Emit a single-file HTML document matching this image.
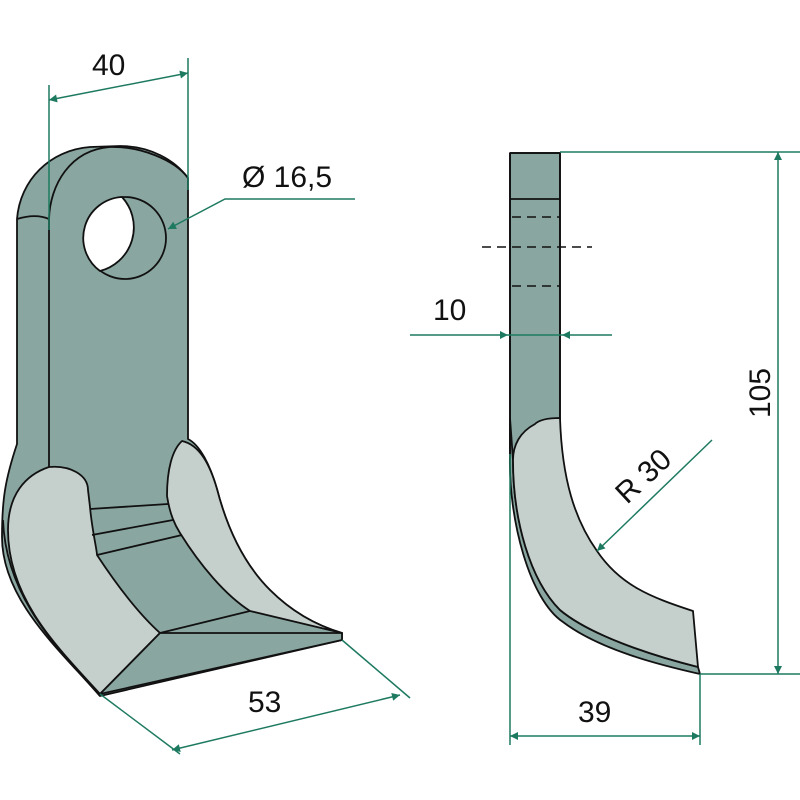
<!DOCTYPE html>
<html><head><meta charset="utf-8"><style>body{margin:0;background:#fff}svg{display:block}</style></head><body>
<svg width="800" height="800" viewBox="0 0 800 800" xmlns="http://www.w3.org/2000/svg">
<defs>
<marker id="a" viewBox="0 0 10 10" refX="10" refY="5" markerWidth="12" markerHeight="8" orient="auto-start-reverse" markerUnits="userSpaceOnUse"><path d="M0,0 L10,5 L0,10 Z" fill="#1d7a60"/></marker>
</defs>
<g stroke="#111" stroke-width="1.8" stroke-linejoin="round">
<!-- left part body -->
<path d="M17,219 C20,180 50,150 90,147 L120,146 C150,146 175,160 188,178 L188,439 C200,445 210,465 217,489 C225,520 240,560 270,590 C290,610 315,625 342,633 L342,640 L100,696 C60,650 2,600 2,537 C2,500 5,480 17,444 Z" fill="#8aa6a0"/>
<path d="M17,219 C30,215 40,215 49,219" fill="none"/>
<path d="M49,219 C50,185 70,150 110,147 C140,146 175,160 188,178" fill="none"/>
<line x1="49" y1="219" x2="49" y2="467"/>
<circle cx="125" cy="238" r="41" fill="#8aa6a0"/>
<path d="M122,197 A41,41 0 0 0 100,271 A45,45 0 0 0 122,197 Z" fill="#fff"/>
<!-- left light face -->
<path d="M49,467 C70,465 88,475 88,490 L90,507 C92,530 97,550 97,555 C120,590 140,615 160,633 L100,694 C60,650 8,600 8,530 C8,495 25,475 49,467 Z" fill="#c5d0cc"/>
<path d="M3,520 C6,600 60,650 100,696" fill="none"/>
<!-- right light face -->
<path d="M182,441 C172,450 167,470 167,496 C170,515 175,525 180,533 C200,565 225,595 250,611 L342,633 C315,625 290,610 270,590 C240,560 225,520 217,489 C210,465 200,445 182,441 Z" fill="#c5d0cc"/>
<!-- groove lines -->
<line x1="90" y1="509" x2="168" y2="504"/>
<line x1="92" y1="535" x2="173" y2="520"/>
<line x1="97" y1="555" x2="182" y2="535"/>
<line x1="160" y1="633" x2="250" y2="611"/>
<path d="M100,694 L160,633 L342,633 L342,640 Z" fill="#8aa6a0"/>
<!-- right part -->
<rect x="510" y="153" width="50" height="300" fill="#8aa6a0"/>
<path d="M510,418 L510,454 C508,520 530,600 563,622 C600,650 660,665 700,674 L698,667 C650,655 590,635 560,610 C530,580 513,520 513,460 Z" fill="#8aa6a0"/>
<line x1="510" y1="153" x2="510" y2="454"/>
<line x1="560" y1="153" x2="560" y2="418"/>
<line x1="510" y1="153" x2="560" y2="153"/>
<line x1="510" y1="199" x2="560" y2="199"/>
<path d="M560,418 C550,418 540,419 535,424 C520,432 513,445 513,460 C513,520 530,580 560,610 C590,635 650,655 698,667 L693,611 C650,597 620,585 597,551 C575,520 562,480 560,418 Z" fill="#c5d0cc"/>
</g>
<g stroke="#111" stroke-width="1.5" stroke-dasharray="9,6" fill="none">
<line x1="512" y1="217" x2="560" y2="217"/>
<line x1="482" y1="247" x2="592" y2="247"/>
<line x1="512" y1="286" x2="560" y2="286"/>
</g>
<!-- dimensions -->
<g stroke="#1d7a60" stroke-width="1.5" fill="none">
<line x1="49" y1="85" x2="49" y2="230"/>
<line x1="188" y1="58" x2="188" y2="190"/>
<line x1="49" y1="100" x2="188" y2="73" marker-start="url(#a)" marker-end="url(#a)"/>
<polyline points="355,199 225,199 168,229" marker-end="url(#a)"/>
<line x1="342" y1="640" x2="410" y2="698"/>
<line x1="100" y1="694" x2="180" y2="754"/>
<line x1="172" y1="750" x2="400" y2="695" marker-start="url(#a)" marker-end="url(#a)"/>
<line x1="410" y1="335" x2="508" y2="335" marker-end="url(#a)"/>
<line x1="612" y1="335" x2="562" y2="335" marker-end="url(#a)"/>
<line x1="508" y1="335" x2="562" y2="335"/>
<line x1="560" y1="152" x2="800" y2="152"/>
<line x1="700" y1="674" x2="800" y2="674"/>
<line x1="778" y1="152" x2="778" y2="674" marker-start="url(#a)" marker-end="url(#a)"/>
<line x1="510" y1="454" x2="510" y2="745"/>
<line x1="700" y1="674" x2="700" y2="745"/>
<line x1="510" y1="736" x2="700" y2="736" marker-start="url(#a)" marker-end="url(#a)"/>
<line x1="712" y1="440" x2="597" y2="551" marker-end="url(#a)"/>
</g>
<g font-family="Liberation Sans, sans-serif" font-size="30" fill="#111">
<text x="92" y="75">40</text>
<text x="242" y="187">Ø 16,5</text>
<text x="248" y="712">53</text>
<text x="433" y="320">10</text>
<text x="578" y="722">39</text>
<text transform="translate(770,418) rotate(-90)">105</text>
<text transform="translate(627,505) rotate(-43)">R 30</text>
</g>
</svg>
</body></html>
